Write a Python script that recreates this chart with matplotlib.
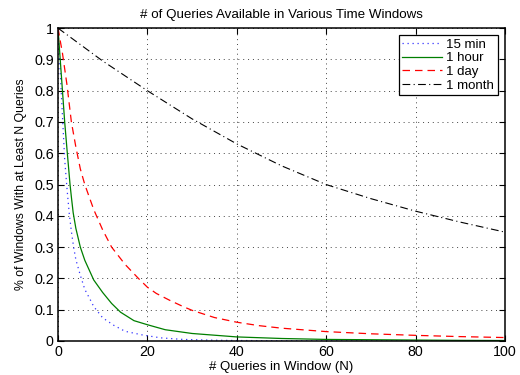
import matplotlib
matplotlib.use("Agg")
import matplotlib.pyplot as plt
from matplotlib.ticker import FuncFormatter

plt.rcParams['font.family'] = ['Liberation Sans', 'DejaVu Sans']

n_min15 = [0, 1, 1.5, 2, 2.5, 3, 3.5, 4, 5, 6, 7, 8, 10, 12.5, 15, 19, 23, 28, 35, 40, 50,
           60, 70, 80, 90, 100]
v_min15 = [1.0, 0.72, 0.58, 0.49, 0.41, 0.35, 0.30, 0.26, 0.21, 0.165, 0.138, 0.11, 0.074,
           0.05, 0.031, 0.019, 0.010, 0.005, 0.0025, 0.0015, 0.0008, 0.0005, 0.0004, 0.0003,
           0.0002, 0.0002]

n_hour = [0, 1, 1.5, 2, 2.7, 3, 3.4, 4, 5, 6, 8, 10, 12, 14, 17, 20, 24, 30, 40, 50, 60,
          70, 80, 90, 100]
v_hour = [1.0, 0.80, 0.70, 0.615, 0.50, 0.46, 0.41, 0.36, 0.30, 0.258, 0.195, 0.155, 0.12,
          0.092, 0.065, 0.052, 0.036, 0.024, 0.013, 0.008, 0.005, 0.004, 0.003, 0.002, 0.0015]

n_day = [0, 1, 2, 3, 4, 5, 6, 8, 10, 12, 15, 18, 20, 22, 25, 28, 30, 35, 40, 45, 50, 60,
         70, 80, 90, 100]
v_day = [1.0, 0.92, 0.82, 0.70, 0.62, 0.55, 0.50, 0.42, 0.355, 0.30, 0.245, 0.20, 0.172,
         0.152, 0.13, 0.11, 0.098, 0.075, 0.06, 0.049, 0.041, 0.03, 0.023, 0.018, 0.014, 0.011]

n_month = [0, 10, 20, 30, 40, 50, 60, 70, 80, 90, 100]
v_month = [1.0, 0.895, 0.80, 0.71, 0.63, 0.56, 0.50, 0.455, 0.415, 0.38, 0.348]

labels = ['15 min', '1 hour', '1 day', '1 month']
x_ticks = [0, 20, 40, 60, 80, 100]
y_ticks = [0, 0.1, 0.2, 0.3, 0.4, 0.5, 0.6, 0.7, 0.8, 0.9, 1.0]

fig = plt.figure(figsize=(5.2, 3.75), dpi=100)
ax = fig.add_axes([0.1115, 0.0907, 0.8595, 0.8343])

ax.plot(n_min15, v_min15, linestyle=(0, (1, 3)), color='#3333ff', lw=0.9, label=labels[0])
ax.plot(n_hour, v_hour, linestyle='-', color='#007f00', lw=0.9, label=labels[1])
ax.plot(n_day, v_day, linestyle=(0, (6, 4)), color='#ff0000', lw=0.9, label=labels[2])
ax.plot(n_month, v_month, linestyle=(0, (7, 3, 1, 3)), color='black', lw=0.8, label=labels[3])

ax.set_xlim(0, 100)
ax.set_ylim(0, 1)
ax.set_xticks(x_ticks)
ax.set_yticks(y_ticks)
ax.yaxis.set_major_formatter(FuncFormatter(lambda v, p: ('%g' % round(v, 2))))
ax.tick_params(direction='in', top=True, right=True, labelsize=10.3, length=4, width=0.8, pad=3)
for s in ax.spines.values():
    s.set_linewidth(1.1)
ax.grid(True, linestyle=(0, (1, 4)), color='#444444', lw=0.7)

ax.set_title('# of Queries Available in Various Time Windows', fontsize=9.6, pad=7)
ax.set_xlabel('# Queries in Window (N)', fontsize=9.5, labelpad=1)
ax.set_ylabel('% of Windows With at Least N Queries', fontsize=8.8, labelpad=5)

leg = ax.legend(loc='upper right', fontsize=9.5, fancybox=False, framealpha=1,
                edgecolor='black', borderpad=0.25, labelspacing=0.1, handlelength=3.0,
                handletextpad=0.35, borderaxespad=0.55)
leg.get_frame().set_linewidth(0.9)

fig.savefig('out.png', dpi=100)
